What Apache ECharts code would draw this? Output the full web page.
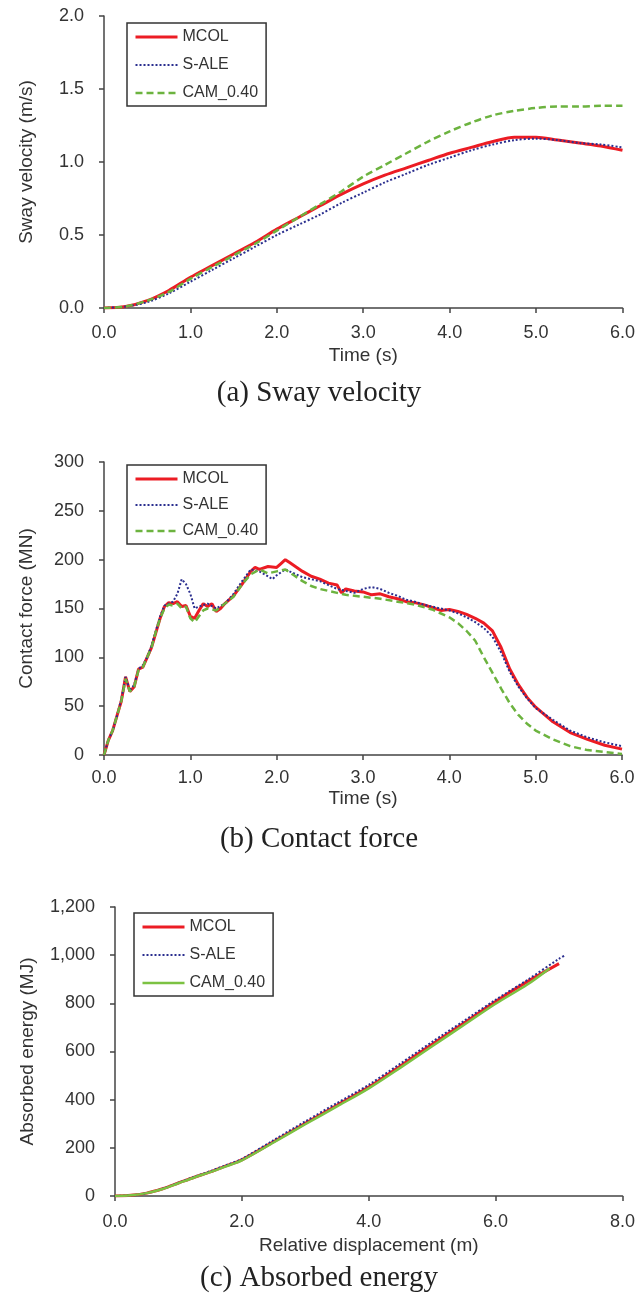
<!DOCTYPE html>
<html>
<head>
<meta charset="utf-8">
<script src="https://cdn.jsdelivr.net/npm/echarts@6/dist/echarts.min.js"></script>
<style>
html,body{margin:0;padding:0;background:#fff;}
#chart{width:638px;height:1299px;}
</style>
</head>
<body>
<div id="chart"></div>
<script>
// ---------- (a) Sway velocity ----------
const swayTime = [0,0.25,0.5,0.75,1.0,1.25,1.5,1.75,2.0,2.25,2.5,2.75,3.0,3.25,3.5,3.75,4.0,4.25,4.5,4.75,5.0,5.25,5.5,5.75,6.0];
const swayMCOL = [0,0.01,0.05,0.12,0.21,0.29,0.37,0.45,0.54,0.62,0.70,0.78,0.85,0.91,0.96,1.01,1.06,1.10,1.14,1.17,1.17,1.15,1.13,1.11,1.08];
const swaySALE = [0,0.01,0.04,0.10,0.18,0.26,0.34,0.42,0.50,0.57,0.64,0.72,0.79,0.86,0.92,0.98,1.03,1.08,1.12,1.15,1.16,1.15,1.13,1.12,1.10];
const swayCAM  = [0,0.01,0.05,0.11,0.20,0.28,0.36,0.44,0.53,0.62,0.71,0.80,0.90,0.98,1.06,1.14,1.21,1.27,1.32,1.35,1.37,1.38,1.38,1.385,1.385];

// ---------- (b) Contact force ----------
const forceTimeMCOL = [0,0.05,0.1,0.15,0.2,0.25,0.3,0.35,0.4,0.45,0.5,0.55,0.6,0.65,0.7,0.75,0.8,0.85,0.9,0.95,1.0,1.05,1.1,1.15,1.2,1.25,1.3,1.35,1.4,1.5,1.6,1.7,1.75,1.8,1.9,2.0,2.05,2.1,2.15,2.2,2.3,2.4,2.5,2.6,2.7,2.75,2.8,2.9,3.0,3.1,3.2,3.3,3.4,3.5,3.6,3.7,3.8,3.9,4.0,4.1,4.2,4.3,4.4,4.5,4.6,4.7,4.8,4.9,5.0,5.2,5.4,5.6,5.8,6.0];
const forceMCOL = [0,15,25,40,55,80,65,70,88,90,100,110,125,140,152,156,155,157,152,153,142,140,148,155,152,155,147,150,155,163,175,188,192,190,193,192,196,200,197,194,188,183,180,176,174,166,170,168,167,164,165,162,160,157,156,154,151,148,149,147,144,140,135,127,110,88,72,59,49,34,23,16,10,6];
const forceTimeSALE = [0,0.05,0.1,0.15,0.2,0.25,0.3,0.35,0.4,0.45,0.5,0.55,0.6,0.65,0.7,0.75,0.8,0.85,0.9,0.95,1.0,1.05,1.1,1.2,1.3,1.4,1.5,1.6,1.7,1.8,1.9,1.95,2.0,2.1,2.2,2.3,2.4,2.5,2.6,2.7,2.8,2.9,3.0,3.1,3.2,3.3,3.4,3.5,3.6,3.7,3.8,3.9,4.0,4.1,4.2,4.3,4.4,4.5,4.6,4.7,4.8,4.9,5.0,5.2,5.4,5.6,5.8,6.0];
const forceSALE = [0,15,25,40,57,80,66,72,88,92,100,112,127,142,153,155,157,165,180,175,165,150,152,155,150,155,165,178,190,188,183,180,184,190,186,182,180,178,174,170,168,166,170,172,170,166,163,159,157,154,152,150,148,145,141,136,130,121,105,85,70,58,48,36,25,18,13,9];
const forceTimeCAM = [0,0.05,0.1,0.15,0.2,0.25,0.3,0.35,0.4,0.45,0.5,0.55,0.6,0.65,0.7,0.75,0.8,0.85,0.9,0.95,1.0,1.05,1.1,1.15,1.2,1.3,1.4,1.5,1.6,1.7,1.8,1.9,2.0,2.1,2.2,2.3,2.4,2.5,2.6,2.7,2.8,2.9,3.0,3.2,3.4,3.6,3.8,4.0,4.1,4.2,4.3,4.4,4.5,4.6,4.7,4.8,4.9,5.0,5.2,5.4,5.6,5.8,6.0];
const forceCAM = [0,15,25,40,55,78,65,70,87,90,100,110,126,140,150,154,153,155,150,152,140,136,142,148,150,148,155,162,175,185,190,186,188,190,184,178,173,170,168,166,164,163,162,160,157,154,149,141,135,127,117,100,84,68,53,41,32,25,16,9,5,3,1];

// ---------- (c) Absorbed energy ----------
const dispMCOL = [0,0.25,0.5,0.75,1.0,1.25,1.5,1.75,2.0,2.5,3.0,3.5,4.0,4.5,5.0,5.5,6.0,6.5,7.0];
const energyMCOL = [0,3,12,30,54,78,100,125,150,225,302,377,452,540,630,718,808,890,965];
const dispSALE = [0,0.25,0.5,0.75,1.0,1.25,1.5,1.75,2.0,2.5,3.0,3.5,4.0,4.5,5.0,5.5,6.0,6.5,7.0,7.1];
const energySALE = [0,3,12,30,55,80,103,128,154,232,310,386,462,550,640,727,815,897,985,1000];
const dispCAM = [0,0.25,0.5,0.75,1.0,1.25,1.5,1.75,2.0,2.5,3.0,3.5,4.0,4.5,5.0,5.5,6.0,6.5,6.85];
const energyCAM = [0,3,12,29,53,77,99,123,148,222,298,372,447,533,622,710,798,878,945];

const seriesNames = ['MCOL','S-ALE','CAM_0.40'];
const subtitles = ['(a) Sway velocity','(b) Contact force','(c) Absorbed energy'];

const zip = (xs, ys) => xs.map((x, i) => [x, ys[i]]);

const RED = '#ec1c24', BLUE = '#2b2f8f', GREEN = '#6cb33f', GREEN_C = '#7cc242';
const AX = '#444';
const FONT = '"Liberation Sans", Arial, sans-serif';

// line styles per panel: [MCOL, S-ALE, CAM_0.40]
const panelStyles = [
  [{color: RED, type: 'solid', width: 3}, {color: BLUE, type: 'dotted', width: 2}, {color: GREEN, type: [7, 4], width: 2.5}],
  [{color: RED, type: 'solid', width: 3}, {color: BLUE, type: 'dotted', width: 2}, {color: GREEN, type: [7, 4], width: 2.5}],
  [{color: RED, type: 'solid', width: 3}, {color: BLUE, type: 'dotted', width: 2}, {color: GREEN_C, type: 'solid', width: 2.5}]
];

function xAxisCfg(idx, min, max, interval, name, nameGap, margin) {
  return {
    type: 'value', gridIndex: idx, min, max, interval,
    name, nameLocation: 'middle', nameGap,
    nameTextStyle: {fontFamily: FONT, fontSize: 19, color: '#333'},
    axisLine: {show: true, lineStyle: {color: AX, width: 1.5}},
    axisTick: {show: true, length: 5, lineStyle: {color: AX, width: 1.5}},
    axisLabel: {fontFamily: FONT, fontSize: 18, color: '#333', margin,
      formatter: v => v.toFixed(1)},
    splitLine: {show: false}
  };
}
function yAxisCfg(idx, min, max, interval, name, nameGap, fmt) {
  return {
    type: 'value', gridIndex: idx, min, max, interval,
    name, nameLocation: 'middle', nameGap,
    nameTextStyle: {fontFamily: FONT, fontSize: 19, color: '#333'},
    axisLine: {show: true, lineStyle: {color: AX, width: 1.5}},
    axisTick: {show: true, length: 5, lineStyle: {color: AX, width: 1.5}},
    axisLabel: {fontFamily: FONT, fontSize: 18, color: '#333', margin: 20, formatter: fmt},
    splitLine: {show: false}
  };
}
function lineSeries(si, idx, data, smooth) {
  const st = panelStyles[idx][si];
  return {
    name: seriesNames[si], type: 'line', xAxisIndex: idx, yAxisIndex: idx, data,
    showSymbol: false, symbol: 'none', smooth: smooth || false,
    lineStyle: Object.assign({}, st), itemStyle: {color: st.color},
    z: si === 0 ? 3 : 4
  };
}
function legendCfg(idx, left, top, gap) {
  return {
    data: seriesNames.map((n, si) => ({
      name: n,
      lineStyle: Object.assign({}, panelStyles[idx][si]),
      itemStyle: {opacity: 0}
    })),
    orient: 'vertical', left, top,
    padding: [6, 8, 5, 7], itemGap: gap, itemWidth: 42, itemHeight: 16,
    borderColor: '#333', borderWidth: 1.5,
    itemStyle: {opacity: 0},
    textStyle: {fontFamily: FONT, fontSize: 16, color: '#333', lineHeight: 16}
  };
}

const chart = echarts.init(document.getElementById('chart'), null, {renderer: 'canvas'});

const option = {
  backgroundColor: '#fff',
  animation: false,
  grid: [
    {left: 104, top: 16, width: 519, height: 292},
    {left: 104, top: 462, width: 518, height: 293},
    {left: 115, top: 907, width: 510, height: 289}
  ],
  xAxis: [
    xAxisCfg(0, 0, 6, 1, 'Time (s)', 38, 16),
    xAxisCfg(1, 0, 6, 1, 'Time (s)', 34, 14),
    xAxisCfg(2, 0, 8, 2, 'Relative displacement (m)', 40, 17)
  ],
  yAxis: [
    yAxisCfg(0, 0, 2, 0.5, 'Sway velocity (m/s)', 68, v => v.toFixed(1)),
    yAxisCfg(1, 0, 300, 50, 'Contact force (MN)', 68, v => String(v)),
    yAxisCfg(2, 0, 1200, 200, 'Absorbed energy (MJ)', 78, v => v.toLocaleString('en-US'))
  ],
  legend: [legendCfg(0, 127, 23, 12), legendCfg(1, 127, 465, 10), legendCfg(2, 134, 913, 12)],
  series: [
    lineSeries(0, 0, zip(swayTime, swayMCOL), 0.3),
    lineSeries(1, 0, zip(swayTime, swaySALE), 0.3),
    lineSeries(2, 0, zip(swayTime, swayCAM), 0.3),
    lineSeries(0, 1, zip(forceTimeMCOL, forceMCOL)),
    lineSeries(1, 1, zip(forceTimeSALE, forceSALE)),
    lineSeries(2, 1, zip(forceTimeCAM, forceCAM)),
    lineSeries(0, 2, zip(dispMCOL, energyMCOL), 0.3),
    lineSeries(1, 2, zip(dispSALE, energySALE), 0.3),
    lineSeries(2, 2, zip(dispCAM, energyCAM), 0.3)
  ],
  graphic: subtitles.map((t, i) => ({
    type: 'text', left: 'center', top: [379, 825, 1264][i],
    style: {text: t, fontFamily: '"Liberation Serif", "Times New Roman", serif', fontSize: 29, fill: '#222'}
  }))
};
chart.setOption(option);
</script>
</body>
</html>
